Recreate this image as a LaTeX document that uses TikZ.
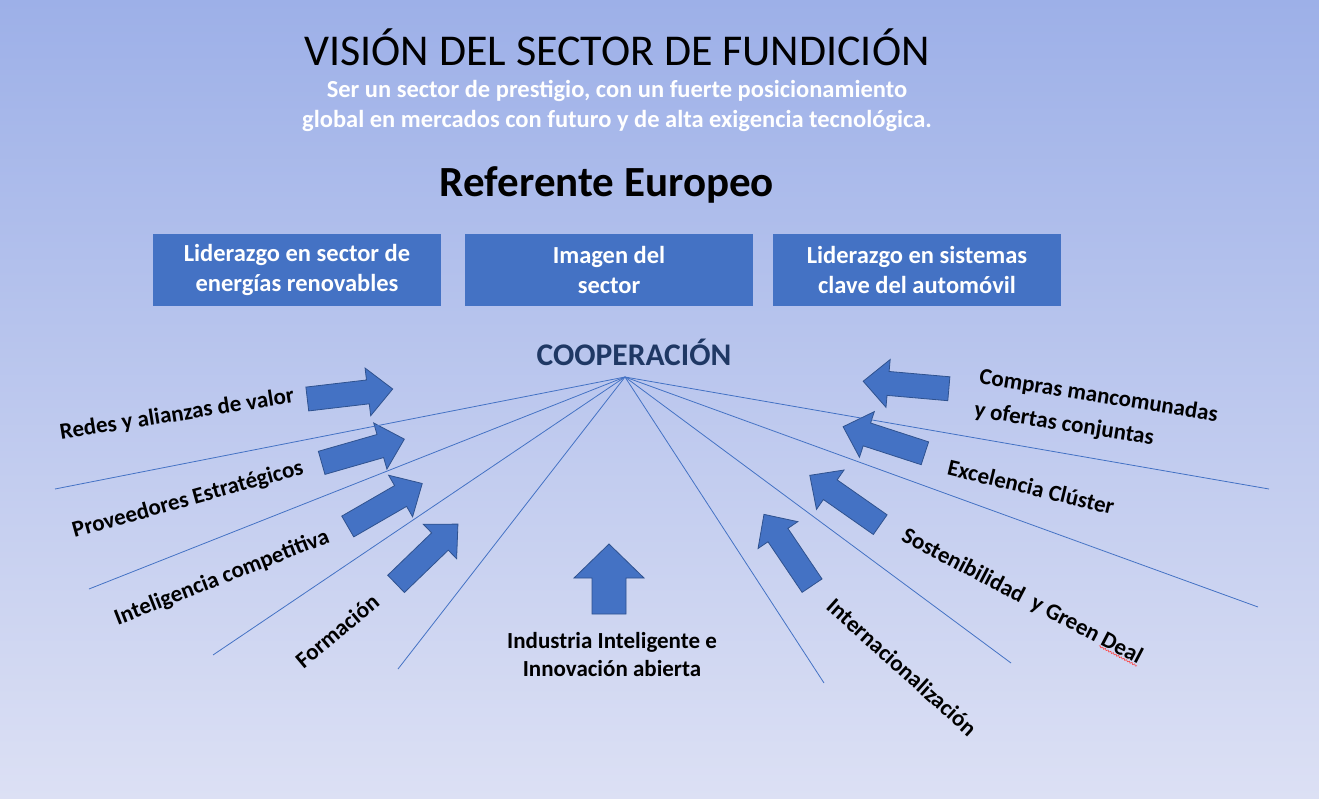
\documentclass[tikz,border=0pt]{standalone}
\usepackage{fontspec}
\setmainfont{Carlito}
\usetikzlibrary{calc}
\usetikzlibrary{decorations.pathmorphing}
\definecolor{bgtop}{RGB}{157,176,232}
\definecolor{bgbot}{RGB}{220,224,244}
\definecolor{boxblue}{RGB}{68,114,196}
\definecolor{arrowedge}{RGB}{47,82,143}
\definecolor{navy}{RGB}{31,56,100}
\tikzset{
  pillar/.style={fill=boxblue, minimum width=288pt, minimum height=72pt, inner sep=0pt,
    align=center, text=white, font=\bfseries\fontsize{24.5}{30}\selectfont},
  lbl/.style={inner sep=0pt, text=black, font=\bfseries\fontsize{23}{28}\selectfont},
  blkarrow/.style={fill=boxblue, draw=arrowedge, line width=0.8pt, line join=miter},
  fanline/.style={draw=boxblue, line width=0.8pt}
}
\begin{document}
\begin{tikzpicture}[x=1pt,y=-1pt]
\useasboundingbox (0,0) rectangle (1319,799);
\shade[top color=bgtop, bottom color=bgbot] (0,0) rectangle (1319,799);
% heading
\node (title) at (617,47) {\fontsize{44}{48}\selectfont VISIÓN DEL SECTOR DE FUNDICIÓN};
\node[align=center, text=white, font=\bfseries\fontsize{24.5}{30}\selectfont] (mission) at (617,106)
  {Ser un sector de prestigio, con un fuerte posicionamiento\\global en mercados con futuro y de alta exigencia tecnológica.};
\node[font=\bfseries\fontsize{43}{48}\selectfont] (refeu) at (607,185) {Referente Europeo};
\node[pillar] (renov) at (297,270) {Liderazgo en sector de\\energías renovables};
\node[pillar] (imagen) at (609,270) {Imagen del\\sector};
\node[pillar] (auto) at (917,270) {Liderazgo en sistemas\\clave del automóvil};
\node[text=navy, font=\bfseries\fontsize{31.5}{34}\selectfont] (coop) at (634,352) {COOPERACIÓN};
% block arrows
\foreach \cx/\cy/\ang in {350/394/6.7, 363/451/16, 385/505/30, 427/554/44,
                          906/385/175, 884/440/162, 845/500/145, 788/550/124} {
 \draw[blkarrow, shift={(\cx,\cy)}, rotate=\ang]
   (-43,-12) -- (18,-12) -- (18,-24) -- (43,0) -- (18,24) -- (18,12) -- (-43,12) -- cycle;
}
\draw[blkarrow, shift={(609,579)}, rotate=90]
   (-35,-17) -- (1,-17) -- (1,-35) -- (35,0) -- (1,35) -- (1,17) -- (-35,17) -- cycle;
% fan
\coordinate (hub) at (625,377);
\foreach \ex/\ey in {55/489, 89/589, 213/655, 398/669, 824/683, 1011/663, 1258/607, 1269/489} {
 \draw[fanline] (hub) -- (\ex,\ey);
}
% labels
\node[lbl, rotate=9] (redes) at (177,415) {Redes y alianzas de valor};
\node[lbl, rotate=15.6] (prov) at (188,500) {Proveedores Estratégicos};
\node[lbl, rotate=21.4] (intel) at (222,578) {Inteligencia competitiva};
\node[lbl, rotate=40] (form) at (337,631) {Formación};
\node[lbl, align=center] (indus) at (612,655) {Industria Inteligente e\\Innovación abierta};
\node[lbl, align=left, rotate=-9, font=\bfseries\fontsize{23}{33}\selectfont] (compras) at (1096,413)
  {Compras mancomunadas\\y ofertas conjuntas};
\node[lbl, rotate=-13.5] (excel) at (1031,487) {Excelencia Clúster};
\node[lbl, rotate=-27.5] (sost) at (1022,597) {Sostenibilidad\ \ y Green Deal};
\node[lbl, rotate=-42] (intern) at (902,667) {Internacionalización};
\draw[red!75, line width=0.6pt, decorate, decoration={snake, amplitude=0.8pt, segment length=3pt}]
  (1099,646) -- (1137,666);
\end{tikzpicture}
\end{document}
